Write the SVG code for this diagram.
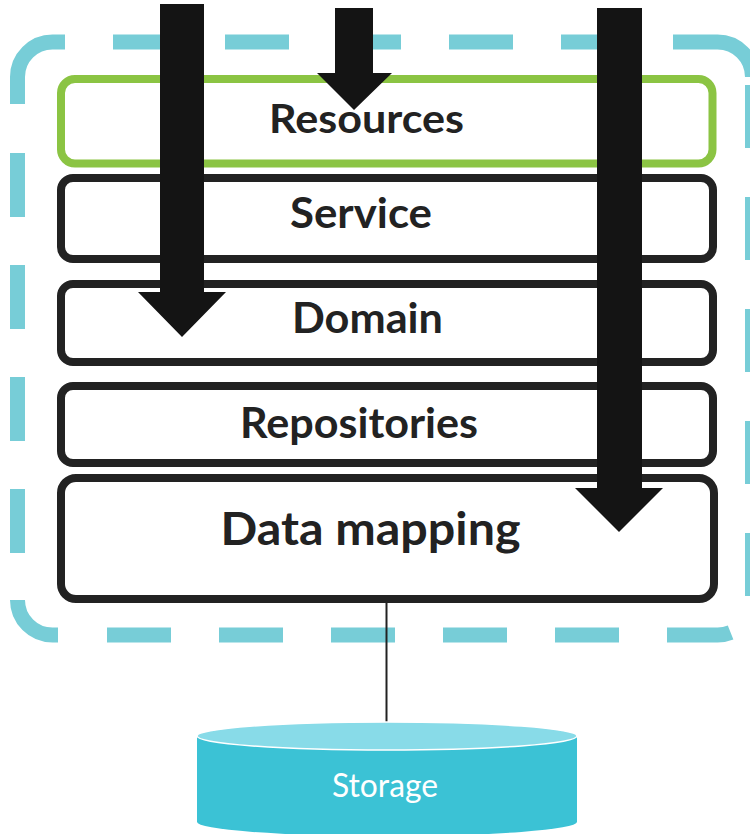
<svg xmlns="http://www.w3.org/2000/svg" width="750" height="834" viewBox="0 0 750 834">
  <style>
    .layer { fill: #ffffff; stroke: #222222; stroke-width: 8; }
    .green { stroke: #8BC443; }
    .label { font-family: Lato, "Open Sans", "Liberation Sans", sans-serif; font-weight: bold; fill: #222222; text-anchor: middle; }
    .dash { fill: none; stroke: #77CDD7; stroke-width: 15; stroke-linecap: butt; }
    .arrow { fill: #141414; }
  </style>
  <rect width="750" height="834" fill="#ffffff"/>
  <g id="container">
    <path class="dash" d="M17.5,104 V77 A35,35 0 0 1 52.5,42 H65
      M113,42 H177 M225,42 H289 M337,42 H401 M449,42 H513 M561,42 H625
      M673,42 H717.5 A35,35 0 0 1 752.5,77
      M752.5,85 V148 M752.5,197 V260 M752.5,309 V372 M752.5,421 V484 M752.5,533 V596
      M667,635 H717.5 A35,35 0 0 0 730.6,632.5
      M555,635 H619 M443,635 H507 M331,635 H395 M219,635 H283 M107,635 H171
      M58,635 H52.5 A35,35 0 0 1 17.5,600
      M17.5,489 V553 M17.5,377 V441 M17.5,265 V329 M17.5,153 V217"/>
  </g>
  <g id="resources">
    <rect class="layer green" x="61" y="79" width="651.5" height="84.5" rx="14"/>
    <text class="label" x="366.5" y="133" font-size="41" textLength="195" lengthAdjust="spacingAndGlyphs">Resources</text>
  </g>
  <g id="service">
    <rect class="layer" x="61" y="178" width="652" height="81" rx="12"/>
    <text class="label" x="361" y="228" font-size="42" textLength="142" lengthAdjust="spacingAndGlyphs">Service</text>
  </g>
  <g id="domain">
    <rect class="layer" x="61" y="284" width="652" height="78" rx="12"/>
    <text class="label" x="367.5" y="333" font-size="42" textLength="151" lengthAdjust="spacingAndGlyphs">Domain</text>
  </g>
  <g id="repositories">
    <rect class="layer" x="61" y="386" width="652" height="77" rx="12"/>
    <text class="label" x="359" y="438" font-size="42" textLength="238" lengthAdjust="spacingAndGlyphs">Repositories</text>
  </g>
  <g id="data-mapping">
    <rect class="layer" x="61" y="478" width="653" height="121" rx="15"/>
    <text class="label" x="370.5" y="545" font-size="45" textLength="300" lengthAdjust="spacingAndGlyphs">Data mapping</text>
  </g>
  <g id="connectors">
    <line x1="386.5" y1="603" x2="386.5" y2="723" stroke="#222222" stroke-width="2"/>
  </g>
  <g id="storage">
    <path d="M197,736 V822 A190,14 0 0 0 577,822 V736 Z" fill="#3BC2D5"/>
    <ellipse cx="387" cy="736" rx="190" ry="14" fill="#88DBE8" stroke="#ffffff" stroke-width="1.5"/>
    <text x="385" y="797" font-family="Lato, 'Open Sans', 'Liberation Sans', sans-serif" font-size="32" fill="#ffffff" text-anchor="middle" textLength="106" lengthAdjust="spacingAndGlyphs">Storage</text>
  </g>
  <g id="arrows">
    <polygon class="arrow" points="160,4 204,4 204,292 226,292 182,337 138,292 160,292"/>
    <polygon class="arrow" points="335,8 373,8 373,73 392,73 354,110 317,73 335,73"/>
    <polygon class="arrow" points="597,8 642,8 642,488 663,488 619,532 575,488 597,488"/>
  </g>
</svg>
